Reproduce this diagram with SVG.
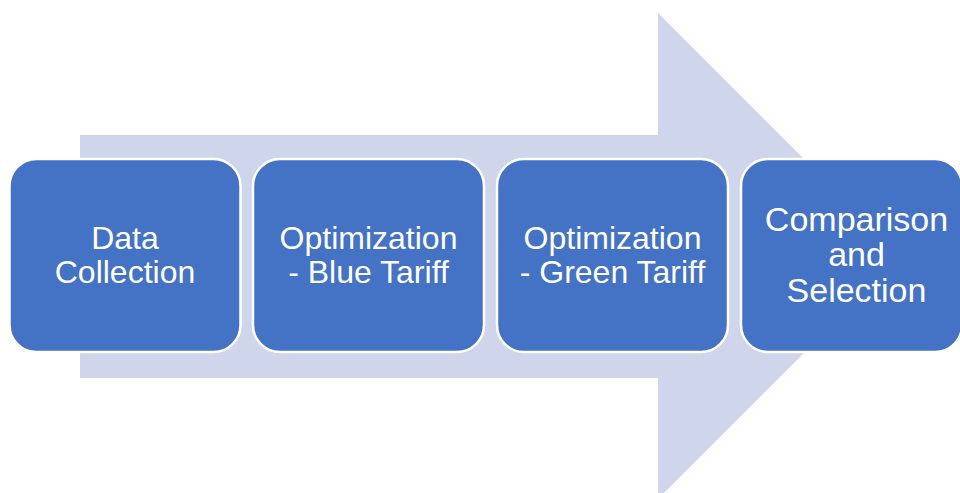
<svg xmlns="http://www.w3.org/2000/svg" width="960" height="493" viewBox="0 0 960 493">
  <style>
    .step { fill: #4472C4; stroke: #FFFFFF; stroke-width: 2.5; }
    .label { fill: #FFFFFF; font-family: "Liberation Sans", Arial, sans-serif; font-size: 32px; text-anchor: middle; }
    .label.big { font-size: 34px; }
  </style>
  <rect width="960" height="493" fill="#FFFFFF"/>

  <!-- background process arrow -->
  <g id="connectors">
    <polygon points="80,135 658,135 658,13 901,256 658,499 658,378 80,378" fill="#CFD5EA"/>
  </g>

  <g id="step1">
    <rect class="step" x="9.5" y="159" width="231" height="193" rx="27"/>
    <text class="label" x="125" y="249">Data</text>
    <text class="label" x="125" y="283">Collection</text>
  </g>

  <g id="step2">
    <rect class="step" x="253" y="159" width="231" height="193" rx="27"/>
    <text class="label" x="368.5" y="249">Optimization</text>
    <text class="label" x="368.5" y="283">- Blue Tariff</text>
  </g>

  <g id="step3">
    <rect class="step" x="497" y="159" width="231" height="193" rx="27"/>
    <text class="label" x="612.5" y="249">Optimization</text>
    <text class="label" x="612.5" y="283">- Green Tariff</text>
  </g>

  <g id="step4">
    <rect class="step" x="741" y="159" width="221" height="193" rx="27"/>
    <text class="label big" x="856.5" y="231">Comparison</text>
    <text class="label big" x="856.5" y="266">and</text>
    <text class="label big" x="856.5" y="302">Selection</text>
  </g>
</svg>
